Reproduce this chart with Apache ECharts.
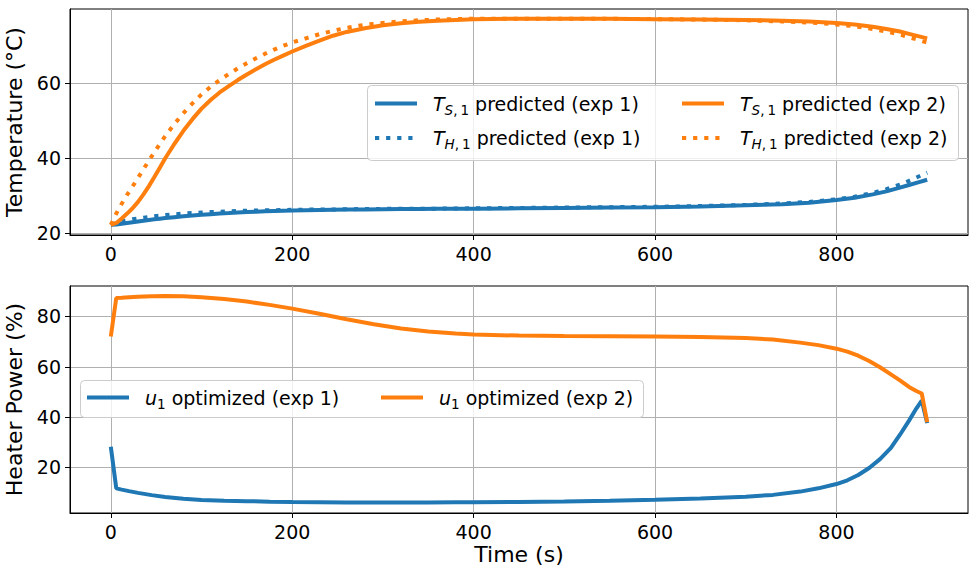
<!DOCTYPE html>
<html><head><meta charset="utf-8">
<script src="https://cdn.jsdelivr.net/npm/echarts@6/dist/echarts.min.js"></script>
<style>html,body{margin:0;padding:0;background:#fff}#c{width:978px;height:577px}</style>
</head><body><div id="c"></div>
<script>
// ---- data ----
const timeTop = [0, 6, 12, 18, 24, 30, 36, 42, 48, 54, 60, 70, 80, 90, 100, 110, 120, 130, 140, 150, 160, 170, 180, 190, 200, 215, 230, 245, 260, 280, 300, 320, 340, 360, 380, 400, 450, 500, 550, 600, 650, 700, 740, 770, 800, 820, 840, 855, 870, 880, 890, 900];
const tsExp1 = [22.3, 22.4, 22.6, 22.8, 23.0, 23.2, 23.4, 23.6, 23.8, 23.95, 24.1, 24.35, 24.6, 24.8, 25.0, 25.15, 25.3, 25.45, 25.6, 25.7, 25.8, 25.9, 26.0, 26.05, 26.1, 26.2, 26.25, 26.3, 26.35, 26.4, 26.45, 26.5, 26.5, 26.55, 26.6, 26.6, 26.7, 26.8, 26.9, 27.0, 27.2, 27.5, 27.8, 28.2, 28.9, 29.5, 30.4, 31.2, 32.2, 32.9, 33.6, 34.3];
const thExp1 = [22.3, 22.8, 23.2, 23.5, 23.8, 24.0, 24.2, 24.4, 24.6, 24.75, 24.9, 25.1, 25.3, 25.45, 25.6, 25.7, 25.8, 25.9, 26.0, 26.05, 26.1, 26.15, 26.2, 26.25, 26.3, 26.35, 26.4, 26.4, 26.45, 26.5, 26.55, 26.6, 26.6, 26.6, 26.65, 26.7, 26.8, 26.9, 27.0, 27.1, 27.3, 27.6, 28.0, 28.4, 29.1, 29.8, 30.8, 31.8, 33.0, 34.0, 35.1, 36.2];
const tsExp2 = [22.3, 22.8, 24.0, 25.3, 26.7, 28.4, 30.4, 32.6, 35.0, 37.5, 40.0, 43.8, 47.3, 50.4, 53.2, 55.5, 57.5, 59.2, 60.8, 62.3, 63.7, 65.0, 66.2, 67.3, 68.4, 69.9, 71.3, 72.6, 73.6, 74.6, 75.4, 75.9, 76.3, 76.6, 76.8, 77.0, 77.1, 77.1, 77.1, 77.0, 76.9, 76.8, 76.6, 76.4, 76.0, 75.6, 75.0, 74.4, 73.7, 73.1, 72.5, 71.9];
const thExp2 = [22.3, 25.3, 27.9, 30.3, 32.5, 34.8, 37.1, 39.4, 41.6, 43.8, 45.9, 49.1, 52.0, 54.6, 57.0, 59.0, 60.8, 62.4, 63.9, 65.3, 66.6, 67.8, 68.9, 69.9, 70.8, 71.9, 73.0, 73.9, 74.7, 75.5, 76.0, 76.4, 76.7, 76.9, 77.0, 77.1, 77.1, 77.1, 77.1, 77.0, 76.9, 76.7, 76.4, 76.1, 75.6, 75.1, 74.4, 73.7, 72.9, 72.2, 71.5, 70.8];

const timeBot = [0, 6, 12, 20, 30, 45, 60, 80, 100, 125, 150, 175, 200, 230, 260, 290, 320, 350, 380, 400, 450, 500, 550, 600, 650, 700, 730, 760, 780, 800, 812, 824, 836, 848, 860, 870, 880, 888, 894, 900];
const uExp1 = [28.2, 11.7, 11.2, 10.6, 9.9, 9.0, 8.3, 7.6, 7.1, 6.8, 6.6, 6.4, 6.3, 6.2, 6.1, 6.1, 6.1, 6.1, 6.2, 6.2, 6.3, 6.5, 6.8, 7.2, 7.7, 8.4, 9.1, 10.4, 11.7, 13.4, 14.9, 17.0, 19.8, 23.3, 27.8, 33.0, 38.6, 43.4, 46.6, 37.6];
const uExp2 = [72.0, 87.3, 87.4, 87.6, 87.8, 88.0, 88.1, 88.0, 87.6, 86.9, 85.9, 84.6, 83.1, 81.1, 78.9, 76.9, 75.2, 74.0, 73.2, 72.8, 72.4, 72.2, 72.1, 72.0, 71.8, 71.4, 70.8, 69.6, 68.6, 67.2, 66.0, 64.4, 62.3, 59.8, 57.0, 54.6, 52.0, 50.4, 49.4, 38.0];

const xTicks = [0, 200, 400, 600, 800];
const tempTicks = [20, 40, 60];
const powerTicks = [20, 40, 60, 80];

const legendLabels = {
  'TS1 exp1': '{it|T}{si|S}{su|,}{sn|1}{n| predicted (exp 1)}',
  'TH1 exp1': '{it|T}{si|H}{su|,}{sn|1}{n| predicted (exp 1)}',
  'TS1 exp2': '{it|T}{si|S}{su|,}{sn|1}{n| predicted (exp 2)}',
  'TH1 exp2': '{it|T}{si|H}{su|,}{sn|1}{n| predicted (exp 2)}',
  'u1 exp1': '{it|u}{su|1}{n| optimized (exp 1)}',
  'u1 exp2': '{it|u}{su|1}{n| optimized (exp 2)}'
};

// ---- chart ----
const FONT = 'DejaVu Sans';
const BLUE = '#1f77b4', ORANGE = '#ff7f0e';
const pairs = (xs, ys) => xs.map((x, i) => [x, ys[i]]);
const chart = echarts.init(document.getElementById('c'), null, {renderer: 'svg'});

function xAxis(gridIndex, name) {
  return {
    type: 'value', gridIndex, min: -45, max: 945,
    name: name || '', nameLocation: 'middle', nameGap: 30,
    nameTextStyle: {fontFamily: FONT, fontSize: 22, color: '#000'},
    axisLine: {show: true, onZero: false, lineStyle: {color: '#000', width: 1}},
    axisTick: {show: true, length: 5, customValues: xTicks, lineStyle: {color: '#000', width: 1}},
    axisLabel: {show: true, customValues: xTicks, margin: 9, fontFamily: FONT, fontSize: 19, color: '#000'},
    splitLine: {show: true, lineStyle: {color: '#b0b0b0', width: 1}}
  };
}
function yAxis(gridIndex, name, min, max, ticks) {
  return {
    type: 'value', gridIndex, min, max,
    name, nameLocation: 'middle', nameGap: 35,
    nameTextStyle: {fontFamily: FONT, fontSize: 22, color: '#000'},
    axisLine: {show: true, onZero: false, lineStyle: {color: '#000', width: 1}},
    axisTick: {show: true, length: 5, customValues: ticks, lineStyle: {color: '#000', width: 1}},
    axisLabel: {show: true, customValues: ticks, margin: 9, fontFamily: FONT, fontSize: 19, color: '#000'},
    splitLine: {show: true, lineStyle: {color: '#b0b0b0', width: 1}}
  };
}
function line(name, xs, ys, color, dotted, idx) {
  return {
    name, type: 'line', xAxisIndex: idx, yAxisIndex: idx,
    data: pairs(xs, ys), symbol: 'none', showSymbol: false,
    lineStyle: {color, width: 4, type: dotted ? [4.2, 6.9] : 'solid', cap: 'butt'},
    itemStyle: {color}, emphasis: {disabled: true}, z: 3
  };
}
const rich = {
  it: {fontFamily: FONT, fontSize: 19, fontStyle: 'italic', color: '#000', lineHeight: 26, padding: [0, 0, 0, 11]},
  si: {fontFamily: FONT, fontSize: 13.5, fontStyle: 'italic', color: '#000', verticalAlign: 'bottom', lineHeight: 16},
  su: {fontFamily: FONT, fontSize: 13.5, color: '#000', verticalAlign: 'bottom', lineHeight: 16},
  sn: {fontFamily: FONT, fontSize: 13.5, color: '#000', verticalAlign: 'bottom', lineHeight: 16, padding: [0, 0, 0, 3]},
  n: {fontFamily: FONT, fontSize: 19, color: '#000', lineHeight: 26}
};
function legend(data, left, top, orient) {
  return {
    data, left, top, orient, padding: 0, itemGap: 12, itemWidth: 42, itemHeight: 14,
    selectedMode: false, z: 60,
    itemStyle: {color: 'transparent', borderColor: 'transparent', borderWidth: 0, opacity: 0},
    lineStyle: {width: 4},
    formatter: n => legendLabels[n],
    textStyle: {fontFamily: FONT, fontSize: 19, color: '#000', rich}
  };
}

chart.setOption({
  animation: false,
  backgroundColor: '#fff',
  grid: [
    {left: 70, top: 9, width: 898, height: 226, show: true, borderColor: '#000', borderWidth: 1, backgroundColor: 'transparent', containLabel: false, outerBoundsMode: 'none'},
    {left: 70, top: 286, width: 898, height: 227, show: true, borderColor: '#000', borderWidth: 1, backgroundColor: 'transparent', containLabel: false, outerBoundsMode: 'none'}
  ],
  xAxis: [xAxis(0), xAxis(1, 'Time (s)')],
  yAxis: [yAxis(0, 'Temperature (°C)', 19.6, 79.7, tempTicks), yAxis(1, 'Heater Power (%)', 1.9, 92.1, powerTicks)],
  legend: [
    legend(['TS1 exp1', 'TH1 exp1'], 373, 94, 'vertical'),
    legend(['TS1 exp2', 'TH1 exp2'], 680, 94, 'vertical'),
    legend(['u1 exp1'], 85, 388, 'horizontal'),
    legend(['u1 exp2'], 379, 388, 'horizontal')
  ],
  graphic: [
    {type: 'rect', z: 50, shape: {x: 367.5, y: 85.5, width: 591, height: 75, r: 4},
     style: {fill: 'rgba(255,255,255,0.8)', stroke: '#cccccc', lineWidth: 1}},
    {type: 'rect', z: 50, shape: {x: 80.5, y: 380.5, width: 563, height: 37, r: 4},
     style: {fill: 'rgba(255,255,255,0.8)', stroke: '#cccccc', lineWidth: 1}}
  ],
  series: [
    line('TS1 exp1', timeTop, tsExp1, BLUE, false, 0),
    line('TH1 exp1', timeTop, thExp1, BLUE, true, 0),
    line('TS1 exp2', timeTop, tsExp2, ORANGE, false, 0),
    line('TH1 exp2', timeTop, thExp2, ORANGE, true, 0),
    line('u1 exp1', timeBot, uExp1, BLUE, false, 1),
    line('u1 exp2', timeBot, uExp2, ORANGE, false, 1)
  ]
});
</script></body></html>
